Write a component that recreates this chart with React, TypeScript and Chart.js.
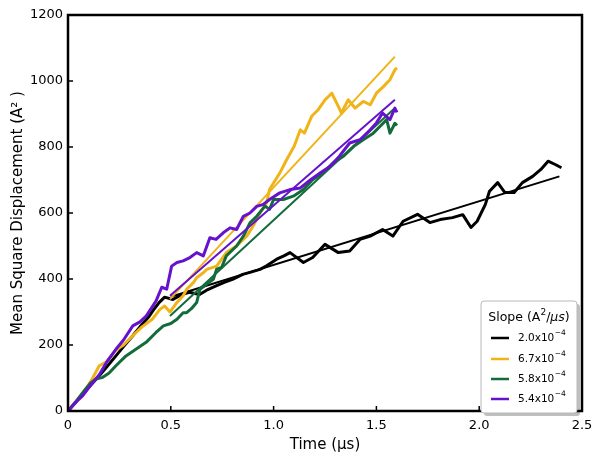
import React, { useEffect, useRef } from 'react';
import { Chart, registerables } from 'chart.js';

Chart.register(...registerables);

// ---------- data (time in µs, MSD in Å^2) ----------
const blackT = [0, 0.04, 0.08, 0.12, 0.152, 0.19, 0.233, 0.27, 0.315, 0.35, 0.396, 0.42, 0.444, 0.47, 0.51, 0.55, 0.59, 0.64, 0.68, 0.72, 0.76, 0.8, 0.85, 0.885, 0.934, 0.966, 1.015, 1.05, 1.08, 1.145, 1.19, 1.25, 1.315, 1.37, 1.42, 1.47, 1.53, 1.58, 1.63, 1.7, 1.76, 1.81, 1.87, 1.92, 1.96, 1.99, 2.03, 2.05, 2.09, 2.125, 2.17, 2.21, 2.26, 2.3, 2.335, 2.37, 2.4];
const blackMSD = [0, 28, 58, 85, 107, 135, 167, 195, 228, 255, 288, 310, 329, 345, 338, 352, 360, 353, 368, 379, 390, 399, 414, 420, 429, 440, 460, 470, 480, 450, 465, 505, 480, 485, 520, 530, 550, 530, 575, 596, 571, 580, 586, 595, 556, 575, 626, 666, 692, 662, 662, 692, 711, 732, 757, 747, 737];
const blackFitT = [0.5, 2.39];
const blackFitMSD = [346, 711];

const yellowT = [0, 0.04, 0.08, 0.12, 0.152, 0.19, 0.233, 0.27, 0.315, 0.36, 0.41, 0.447, 0.47, 0.496, 0.53, 0.56, 0.577, 0.61, 0.626, 0.658, 0.675, 0.723, 0.77, 0.82, 0.869, 0.9, 0.934, 0.966, 0.98, 1.03, 1.064, 1.1, 1.13, 1.15, 1.185, 1.217, 1.25, 1.283, 1.307, 1.33, 1.363, 1.396, 1.436, 1.47, 1.5, 1.534, 1.566, 1.59, 1.6];
const yellowMSD = [0, 30, 60, 100, 137, 150, 185, 200, 228, 255, 278, 308, 318, 300, 329, 349, 369, 389, 404, 419, 429, 439, 480, 500, 530, 560, 600, 631, 671, 721, 762, 802, 852, 842, 893, 913, 943, 963, 933, 903, 943, 918, 938, 928, 963, 983, 1004, 1034, 1040];
const yellowFitT = [0.496, 1.59];
const yellowFitMSD = [339, 1074];

const greenT = [0, 0.04, 0.08, 0.11, 0.136, 0.169, 0.2, 0.233, 0.282, 0.33, 0.38, 0.428, 0.464, 0.5, 0.53, 0.56, 0.577, 0.6, 0.626, 0.642, 0.675, 0.707, 0.723, 0.747, 0.77, 0.82, 0.853, 0.885, 0.918, 0.958, 0.98, 1.0, 1.047, 1.096, 1.145, 1.19, 1.24, 1.29, 1.34, 1.39, 1.436, 1.485, 1.517, 1.55, 1.566, 1.59, 1.6];
const greenMSD = [0, 30, 62, 85, 97, 102, 115, 137, 167, 187, 208, 238, 258, 265, 278, 298, 298, 310, 329, 369, 385, 399, 430, 435, 470, 500, 530, 570, 590, 621, 611, 641, 641, 651, 671, 701, 721, 752, 772, 802, 822, 842, 862, 883, 842, 872, 865];
const greenFitT = [0.496, 1.59];
const greenFitMSD = [288, 918];

const purpleT = [0, 0.04, 0.071, 0.11, 0.152, 0.19, 0.233, 0.27, 0.315, 0.35, 0.38, 0.428, 0.456, 0.48, 0.504, 0.53, 0.56, 0.593, 0.626, 0.658, 0.69, 0.72, 0.755, 0.788, 0.82, 0.853, 0.885, 0.918, 0.95, 0.98, 1.03, 1.08, 1.13, 1.18, 1.226, 1.274, 1.32, 1.37, 1.42, 1.47, 1.5, 1.53, 1.566, 1.59, 1.6];
const purpleMSD = [0, 28, 46, 78, 110, 150, 187, 215, 258, 270, 288, 333, 375, 369, 439, 450, 455, 465, 480, 470, 525, 520, 540, 555, 550, 590, 600, 620, 626, 641, 661, 671, 676, 701, 721, 741, 772, 812, 822, 852, 873, 903, 883, 918, 905];
const purpleFitT = [0.496, 1.59];
const purpleFitMSD = [349, 943];

const xTicks = [0, 0.5, 1, 1.5, 2, 2.5];
const xTickLabels = ['0', '0.5', '1.0', '1.5', '2.0', '2.5'];
const yTicks = [0, 200, 400, 600, 800, 1000, 1200];
const yTickLabels = ['0', '200', '400', '600', '800', '1000', '1200'];

const legendMantissas = ['2.0x10', '6.7x10', '5.8x10', '5.4x10'];
const legendExponents = ['\u22124', '\u22124', '\u22124', '\u22124'];
const seriesColors = ['#000000', '#f0b418', '#136b3b', '#6612cc'];

const FONT = "'DejaVu Sans', sans-serif";

const pts = (xs: number[], ys: number[]) => xs.map((x, i) => ({ x, y: ys[i] }));

const framePlugin = {
  id: 'frameTicks',
  afterDraw(chart: any) {
    const { ctx, chartArea: a, scales } = chart;
    ctx.save();
    ctx.strokeStyle = '#000';
    ctx.lineWidth = 1.5;
    ctx.beginPath();
    xTicks.forEach((v) => {
      const px = scales.x.getPixelForValue(v);
      ctx.moveTo(px, a.bottom);
      ctx.lineTo(px, a.bottom - 5);
    });
    yTicks.forEach((v) => {
      const py = scales.y.getPixelForValue(v);
      ctx.moveTo(a.left, py);
      ctx.lineTo(a.left + 5, py);
    });
    ctx.stroke();
    ctx.lineWidth = 2.5;
    ctx.strokeRect(a.left, a.top, a.right - a.left, a.bottom - a.top);

    // legend
    const bx = 481, by = 301, bw = 96, bh = 112;
    const rr = (x: number, y: number, w: number, h: number, r: number) => {
      ctx.beginPath();
      ctx.moveTo(x + r, y);
      ctx.lineTo(x + w - r, y);
      ctx.arcTo(x + w, y, x + w, y + r, r);
      ctx.lineTo(x + w, y + h - r);
      ctx.arcTo(x + w, y + h, x + w - r, y + h, r);
      ctx.lineTo(x + r, y + h);
      ctx.arcTo(x, y + h, x, y + h - r, r);
      ctx.lineTo(x, y + r);
      ctx.arcTo(x, y, x + r, y, r);
      ctx.closePath();
    };
    rr(bx + 3, by + 3, bw, bh, 3);
    ctx.fillStyle = 'rgba(0,0,0,0.25)';
    ctx.fill();
    rr(bx, by, bw, bh, 3);
    ctx.fillStyle = '#ffffff';
    ctx.fill();
    ctx.lineWidth = 1;
    ctx.strokeStyle = '#b8b8b8';
    ctx.stroke();

    // title: Slope (A^2/µs)
    ctx.fillStyle = '#000';
    ctx.textBaseline = 'middle';
    ctx.textAlign = 'left';
    const tf = `12.5px ${FONT}`;
    const sf = `9px ${FONT}`;
    const itf = `italic 12.5px ${FONT}`;
    const parts: [string, string, number][] = [
      ['Slope (A', tf, 0],
      ['2', sf, -5],
      ['/', tf, 0],
      ['\u03bcs', itf, 0],
      [')', tf, 0],
    ];
    let total = 0;
    parts.forEach(([t, f]) => { ctx.font = f; total += ctx.measureText(t).width; });
    let tx = bx + bw / 2 - total / 2;
    const ty = by + 17;
    parts.forEach(([t, f, dy]) => {
      ctx.font = f;
      ctx.fillText(t, tx, ty + dy);
      tx += ctx.measureText(t).width;
    });

    // entries
    const rowY = [338, 359, 379, 399];
    legendMantissas.forEach((m, i) => {
      const y = rowY[i];
      ctx.strokeStyle = seriesColors[i];
      ctx.lineWidth = 2.5;
      ctx.beginPath();
      ctx.moveTo(bx + 10, y);
      ctx.lineTo(bx + 28, y);
      ctx.stroke();
      ctx.fillStyle = '#000';
      ctx.font = `10.5px ${FONT}`;
      ctx.fillText(m, bx + 37, y);
      const w = ctx.measureText(m).width;
      ctx.font = `7.5px ${FONT}`;
      ctx.fillText(legendExponents[i], bx + 37 + w + 0.5, y - 5);
    });
    ctx.restore();
  },
};

export default function App() {
  const ref = useRef<HTMLCanvasElement | null>(null);
  useEffect(() => {
    if (!ref.current) return;
    const dataLine = (xs: number[], ys: number[], c: string, order: number) => ({
      data: pts(xs, ys), borderColor: c, backgroundColor: c, borderWidth: 3,
      pointRadius: 0, fill: false, tension: 0, order, borderJoinStyle: 'round',
    });
    const fitLine = (xs: number[], ys: number[], c: string, order: number) => ({
      data: pts(xs, ys), borderColor: c, backgroundColor: c, borderWidth: 2,
      pointRadius: 0, fill: false, tension: 0, order,
    });
    const chart = new Chart(ref.current, {
      type: 'line',
      data: {
        datasets: [
          dataLine(blackT, blackMSD, seriesColors[0], 8),
          fitLine(blackFitT, blackFitMSD, seriesColors[0], 7),
          dataLine(yellowT, yellowMSD, seriesColors[1], 6),
          fitLine(yellowFitT, yellowFitMSD, seriesColors[1], 5),
          dataLine(greenT, greenMSD, seriesColors[2], 4),
          fitLine(greenFitT, greenFitMSD, seriesColors[2], 3),
          dataLine(purpleT, purpleMSD, seriesColors[3], 2),
          fitLine(purpleFitT, purpleFitMSD, seriesColors[3], 1),
        ] as any,
      },
      options: {
        responsive: false,
        animation: false,
        events: [],
        layout: { padding: { top: 15, right: 18, left: 0, bottom: 0 } },
        plugins: { legend: { display: false }, tooltip: { enabled: false } },
        scales: {
          x: {
            type: 'linear',
            min: 0,
            max: 2.5,
            afterBuildTicks: (s: any) => { s.ticks = xTicks.map((v) => ({ value: v })); },
            afterFit: (s: any) => { s.height = 457 - 411; },
            grid: { display: false, drawTicks: false },
            border: { display: false },
            ticks: {
              autoSkip: false, maxRotation: 0, padding: 7, color: '#000',
              font: { family: FONT, size: 13 },
              callback: (v: any) => xTickLabels[xTicks.indexOf(Number(v))],
            },
            title: {
              display: true, text: 'Time (\u03bcs)', color: '#000',
              font: { family: FONT, size: 15 }, padding: { top: 0, bottom: 3 },
            },
          },
          y: {
            type: 'linear',
            min: 0,
            max: 1200,
            afterBuildTicks: (s: any) => { s.ticks = yTicks.map((v) => ({ value: v })); },
            afterFit: (s: any) => { s.width = 68; },
            grid: { display: false, drawTicks: false },
            border: { display: false },
            ticks: {
              autoSkip: false, padding: 5, color: '#000',
              font: { family: FONT, size: 13 },
              callback: (v: any) => yTickLabels[yTicks.indexOf(Number(v))],
            },
            title: {
              display: true, text: 'Mean Square Displacement (A\u00b2 )', color: '#000',
              font: { family: FONT, size: 15 }, padding: { top: 9, bottom: 0 },
            },
          },
        },
      } as any,
      plugins: [framePlugin],
    });
    return () => chart.destroy();
  }, []);
  return (
    <div style={{ position: 'fixed', left: 0, top: 0, width: 600, height: 457, background: '#fff' }}>
      <canvas ref={ref} width={600} height={457} style={{ display: 'block', width: 600, height: 457 }} />
    </div>
  );
}
